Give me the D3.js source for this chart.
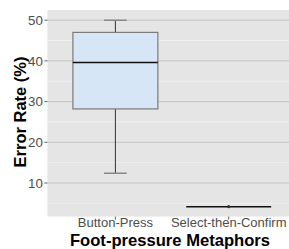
<!DOCTYPE html>
<html><head><meta charset="utf-8">
<script src="https://cdn.jsdelivr.net/npm/d3@7"></script>
<style>body{margin:0;background:#fff}svg{display:block}text{font-family:"Liberation Sans",Arial,sans-serif}</style>
</head><body>
<svg id="c" width="289" height="249"></svg>
<script>
const categories = ["Button-Press", "Select-then-Confirm"];
const lowerWhisker = [12.4, 4.2];
const q1 = [28.2, 4.2];
const median = [39.6, 4.2];
const q3 = [47.0, 4.2];
const upperWhisker = [50.0, 4.2];
const outliers = [[], [4.2]];
const yTicks = [10, 20, 30, 40, 50];
const yMinor = [5, 15, 25, 35, 45];

const svg = d3.select("#c");
const panel = {left: 47.4, top: 10, bottom: 216.6};
const unit = 113.3;
const x = d3.scalePoint().domain(categories).range([panel.left + 0.6*unit, panel.left + 1.6*unit]);
const panelRight = panel.left + 2.2*unit;
const y = d3.scaleLinear().domain([1.75, 52.5]).range([panel.bottom, panel.top]);

svg.append("defs").append("clipPath").attr("id","clip").append("rect")
  .attr("x", panel.left).attr("y", panel.top).attr("width", panelRight - panel.left).attr("height", panel.bottom - panel.top);

svg.append("rect").attr("x", panel.left).attr("y", panel.top)
  .attr("width", panelRight - panel.left).attr("height", panel.bottom - panel.top).attr("fill", "#e5e5e5");

const g = svg.append("g").attr("clip-path", "url(#clip)");
g.selectAll(".minor").data(yMinor).join("line")
  .attr("x1", panel.left).attr("x2", panelRight).attr("y1", d => y(d)).attr("y2", d => y(d))
  .attr("stroke", "#f2f2f2").attr("stroke-width", 0.8);
g.selectAll(".major").data(yTicks).join("line")
  .attr("x1", panel.left).attr("x2", panelRight).attr("y1", d => y(d)).attr("y2", d => y(d))
  .attr("stroke", "#c4c4c4").attr("stroke-width", 1);

const bw = 0.75*unit, cw = 0.2*unit;
categories.forEach((c, i) => {
  const cx = x(c);
  g.append("line").attr("x1", cx).attr("x2", cx).attr("y1", y(q3[i])).attr("y2", y(upperWhisker[i]))
    .attr("stroke", "#333").attr("stroke-width", 1);
  g.append("line").attr("x1", cx).attr("x2", cx).attr("y1", y(q1[i])).attr("y2", y(lowerWhisker[i]))
    .attr("stroke", "#333").attr("stroke-width", 1);
  if (upperWhisker[i] - lowerWhisker[i] > 0.5) {
    [upperWhisker[i], lowerWhisker[i]].forEach(v => {
      g.append("line").attr("x1", cx - cw/2).attr("x2", cx + cw/2).attr("y1", y(v)).attr("y2", y(v))
        .attr("stroke", "#888").attr("stroke-width", 1.6);
    });
  }
  g.append("rect").attr("x", cx - bw/2).attr("y", y(q3[i])).attr("width", bw)
    .attr("height", Math.max(0, y(q1[i]) - y(q3[i])))
    .attr("fill", "#d6e6f6").attr("stroke", "#7a7a7a").attr("stroke-width", 1.2);
  g.append("line").attr("x1", cx - bw/2).attr("x2", cx + bw/2).attr("y1", y(median[i])).attr("y2", y(median[i]))
    .attr("stroke", "#111").attr("stroke-width", 1.5);
  outliers[i].forEach(v => {
    g.append("circle").attr("cx", cx).attr("cy", y(v)).attr("r", 1.6).attr("fill", "#333");
  });
});

const ya = svg.append("g");
yTicks.forEach(t => {
  ya.append("line").attr("x1", panel.left - 3).attr("x2", panel.left).attr("y1", y(t)).attr("y2", y(t)).attr("stroke", "#333").attr("stroke-width", 0.8);
  ya.append("text").attr("x", panel.left - 4.5).attr("y", y(t)).attr("dy", "0.36em").attr("text-anchor", "end")
    .attr("font-size", 13.3).attr("fill", "#4d4d4d").text(t);
});
categories.forEach(c => {
  svg.append("line").attr("x1", x(c)).attr("x2", x(c)).attr("y1", panel.bottom).attr("y2", panel.bottom + 3).attr("stroke", "#333").attr("stroke-width", 0.8);
  svg.append("text").attr("x", x(c)).attr("y", 227.2).attr("text-anchor", "middle")
    .attr("font-size", 13).attr("fill", "#4d4d4d").text(c);
});

svg.append("text").attr("x", 170).attr("y", 245.5).attr("text-anchor", "middle")
  .attr("font-size", 16.6).attr("font-weight", "bold").attr("fill", "#000").text("Foot-pressure Metaphors");
svg.append("text").attr("transform", "translate(25.5,112) rotate(-90)").attr("text-anchor", "middle")
  .attr("font-size", 16.5).attr("font-weight", "bold").attr("fill", "#000").text("Error Rate (%)");
</script>
</body></html>
